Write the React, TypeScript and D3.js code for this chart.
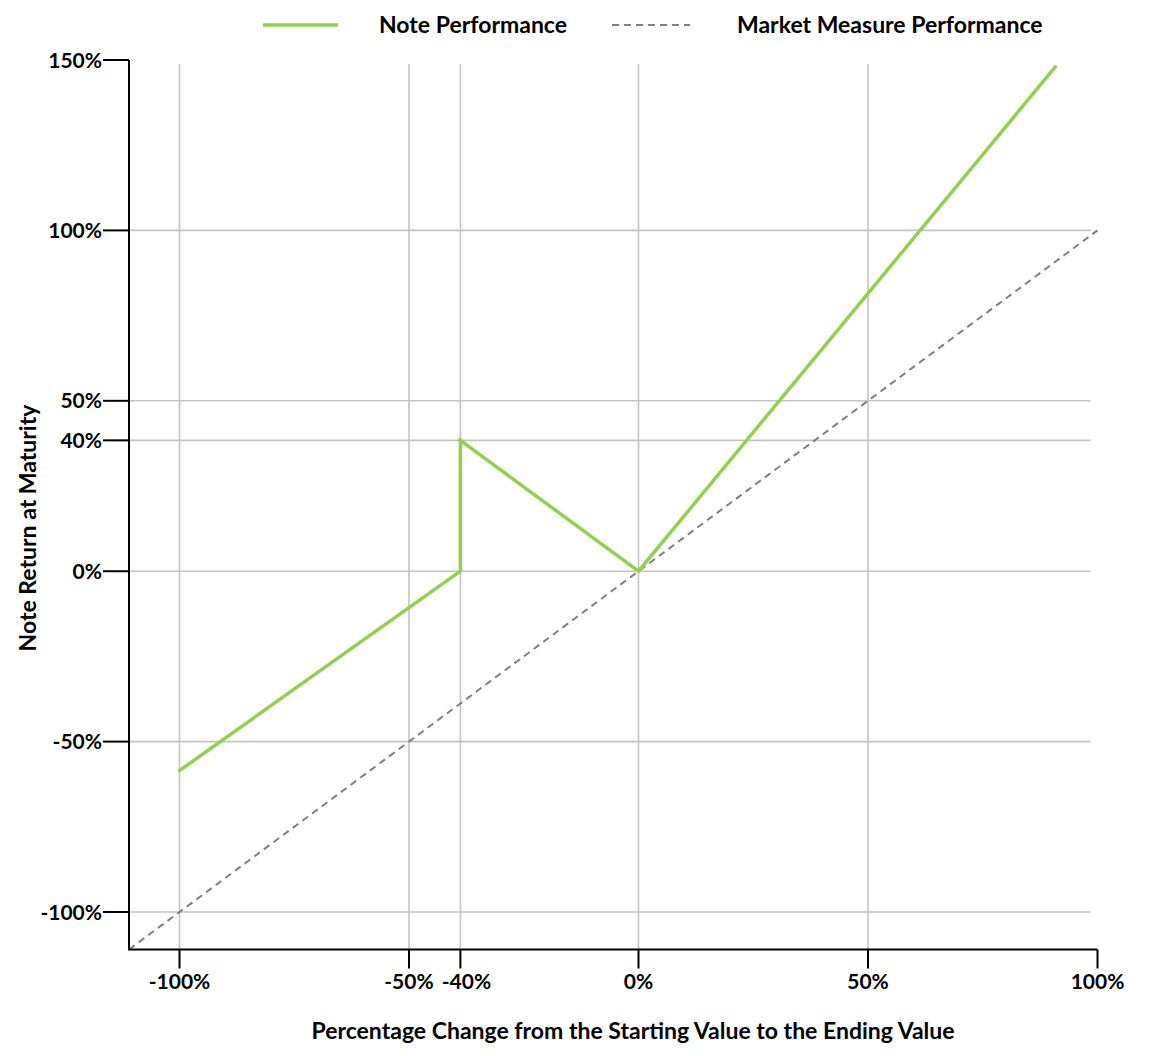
import React from "react";
import * as d3 from "d3";

const xTicks = [-100, -50, -40, 0, 50, 100];
const yTicks = [150, 100, 50, 40, 0, -50, -100];

// note payoff
const noteX = [-100, -40, -40, 0, 90.8];
const noteY = [-58.5, 0, 40, 0, 148];

// market measure is the 1:1 line
const marketX = [-111, 100];
const marketY = [-111, 100];

const legendItems = ["Note Performance", "Market Measure Performance"];

const W = 1155;
const H = 1056;
const FONT = "Lato, 'Open Sans', sans-serif";
const GREEN = "#92d050";
const GRID = "#c4c4c4";

export default function App() {
  // base linear scales; the -40 / 40 gridlines sit a bit off in the original
  const xBase = d3.scaleLinear().domain([-111, 100]).range([129, 1097.5]);
  const yBase = d3.scaleLinear().domain([-111, 150]).range([949.5, 60]);

  const xScale = d3
    .scaleLinear()
    .domain([-111, -50, -40, 0, 100])
    .range([-111, -50, -38.8, 0, 100].map((v) => xBase(v)));
  const yScale = d3
    .scaleLinear()
    .domain([-111, 0, 40, 50, 150])
    .range([-111, 0, 38.4, 50, 150].map((v) => yBase(v)));

  const [x0, x1] = [xScale(-111), xScale(100)];
  const [yBottom, yTop] = [yScale(-111), yScale(150)];
  const gridRight = xScale(98.5);
  const gridTop = yScale(148.8);

  const line = d3
    .line<[number, number]>()
    .x((d) => xScale(d[0]))
    .y((d) => yScale(d[1]));

  const notePts = noteX.map((x, i) => [x, noteY[i]] as [number, number]);
  const marketPts = marketX.map((x, i) => [x, marketY[i]] as [number, number]);

  return (
    <svg
      width={W}
      height={H}
      style={{ position: "absolute", left: 0, top: 0, background: "#fff" }}
      fontFamily={FONT}
    >
      {/* grid */}
      <g stroke={GRID} strokeWidth={1.6}>
        {xTicks
          .filter((t) => t !== 100)
          .map((t) => (
            <line key={"vx" + t} x1={xScale(t)} x2={xScale(t)} y1={gridTop} y2={yBottom} />
          ))}
        {yTicks
          .filter((t) => t !== 150)
          .map((t) => (
            <line key={"hy" + t} x1={x0} x2={gridRight} y1={yScale(t)} y2={yScale(t)} />
          ))}
      </g>

      {/* market measure */}
      <path
        d={line(marketPts) ?? ""}
        fill="none"
        stroke="#808080"
        strokeWidth={2}
        strokeDasharray="7,5"
      />

      {/* note */}
      <path
        d={line(notePts) ?? ""}
        fill="none"
        stroke={GREEN}
        strokeWidth={3.5}
        strokeLinecap="round"
      />

      {/* axes */}
      <g stroke="#000" strokeWidth={2} fill="none">
        <path d={`M${x0},${yTop}V${yBottom}H${x1}`} />
        {yTicks.map((t) => (
          <line key={"yt" + t} x1={x0 - 26} x2={x0} y1={yScale(t)} y2={yScale(t)} />
        ))}
        {xTicks.map((t) => (
          <line key={"xt" + t} x1={xScale(t)} x2={xScale(t)} y1={yBottom} y2={yBottom + 19} />
        ))}
      </g>

      <g fontSize={21} fontWeight={700} fill="#000">
        {yTicks.map((t) => (
          <text key={"yl" + t} x={x0 - 27} y={yScale(t)} dy="0.36em" textAnchor="end">
            {t + "%"}
          </text>
        ))}
        {xTicks.map((t) => (
          <text
            key={"xl" + t}
            x={xScale(t) + (t === -40 ? 6 : 0)}
            y={yBottom + 39}
            textAnchor="middle"
          >
            {t + "%"}
          </text>
        ))}
      </g>

      {/* axis titles */}
      <text x={633} y={1039} textAnchor="middle" fontSize={23} fontWeight={700}>
        Percentage Change from the Starting Value to the Ending Value
      </text>
      <text
        transform={`translate(36,528) rotate(-90)`}
        textAnchor="middle"
        fontSize={23}
        fontWeight={700}
      >
        Note Return at Maturity
      </text>

      {/* legend */}
      <g fontSize={23} fontWeight={700}>
        <line x1={263} x2={338} y1={25} y2={25} stroke={GREEN} strokeWidth={3.5} />
        <text x={379} y={25} dy="0.36em">
          {legendItems[0]}
        </text>
        <line
          x1={612}
          x2={690}
          y1={25}
          y2={25}
          stroke="#808080"
          strokeWidth={2}
          strokeDasharray="7,5"
        />
        <text x={737} y={25} dy="0.36em">
          {legendItems[1]}
        </text>
      </g>
    </svg>
  );
}
